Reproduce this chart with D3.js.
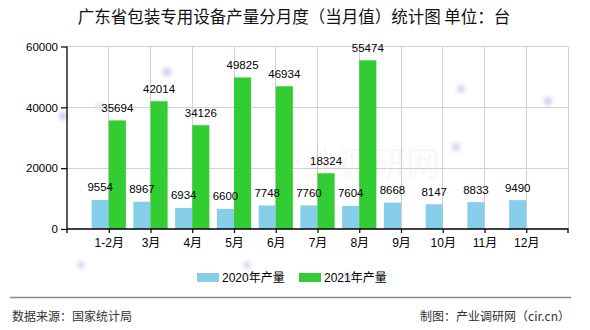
<!DOCTYPE html>
<html>
<head>
<meta charset="utf-8">
<script src="https://cdn.jsdelivr.net/npm/d3@7/dist/d3.min.js"></script>
<style>
  html, body { margin: 0; padding: 0; background: #fff; }
  svg { display: block; }
  text { font-family: "Liberation Sans", "Noto Sans CJK SC", sans-serif; }
</style>
</head>
<body>
<svg id="chart" width="590" height="330"></svg>
<script>
// Monthly output of packaging machinery in Guangdong (units: 台)
const categories = ["1-2月", "3月", "4月", "5月", "6月", "7月", "8月", "9月", "10月", "11月", "12月"];
const output2020 = [9554, 8967, 6934, 6600, 7748, 7760, 7604, 8668, 8147, 8833, 9490];
const output2021 = [35694, 42014, 34126, 49825, 46934, 18324, 55474, null, null, null, null];
const yTicks = [0, 20000, 40000, 60000];
const seriesNames = ["2020年产量", "2021年产量"];
const seriesColors = ["#87CEEB", "#32CD32"];

const titleText = "广东省包装专用设备产量分月度（当月值）统计图 单位：台";
const sourceText = "数据来源：国家统计局";
const creditText = "制图：产业调研网（cir.cn）";

const svg = d3.select("#chart");
const plot = { left: 67, right: 568, top: 46.5, bottom: 229 };

const x = d3.scalePoint().domain(categories).range([plot.left, plot.right]).padding(1);
const y = d3.scaleLinear().domain([0, 60000]).range([plot.bottom, plot.top]);
const barW = x.step() * 0.41;

// soft decorative dots in the background
const defs = svg.append("defs");
const blur = defs.append("filter").attr("id", "soft").attr("x", "-100%").attr("y", "-100%").attr("width", "300%").attr("height", "300%");
blur.append("feGaussianBlur").attr("stdDeviation", 2.2);
const dots = [[63,116,"#c8cbe8"],[100,107,"#dfe1f2"],[167,72,"#c8cbe8"],[461,89,"#d0d3ec"],[456,147,"#d0d3ec"],[548,101,"#c8cbe8"],[81,265,"#d8daf0"],[247,265,"#d8daf0"],[348,277,"#d8daf0"]];

// title
svg.append("text")
  .attr("x", 294).attr("y", 23)
  .attr("text-anchor", "middle")
  .attr("font-size", 16.5)
  .attr("fill", "#111")
  .style("font-family", "'Noto Sans CJK SC', sans-serif")
  .text(titleText);

// grid
const grid = svg.append("g").attr("stroke", "#d0d0d0").attr("stroke-width", 1).attr("shape-rendering", "crispEdges");
yTicks.filter(t => t > 0).forEach(t => {
  grid.append("line").attr("x1", plot.left).attr("x2", plot.right).attr("y1", y(t)).attr("y2", y(t));
});
categories.forEach(c => {
  grid.append("line").attr("x1", x(c)).attr("x2", x(c)).attr("y1", plot.top).attr("y2", plot.bottom);
});
grid.append("line").attr("x1", plot.right).attr("x2", plot.right).attr("y1", plot.top).attr("y2", plot.bottom);

// watermark
svg.append("text")
  .attr("x", 355).attr("y", 176)
  .attr("text-anchor", "middle")
  .attr("font-size", 34)
  .attr("fill", "#e05050")
  .attr("opacity", 0.05)
  .style("font-family", "'Noto Sans CJK SC', sans-serif")
  .text("产业调研网");

svg.append("g").attr("filter", "url(#soft)")
  .selectAll("circle").data(dots).join("circle")
  .attr("cx", d => d[0]).attr("cy", d => d[1]).attr("r", 4)
  .attr("fill", d => d[2]);

// bars first, then all value labels on top
const series = [output2020, output2021];
const bars = svg.append("g");
const labels = svg.append("g");
series.forEach((vals, si) => {
  const items = categories.map((c, i) => ({ c, v: vals[i] })).filter(d => d.v != null);
  const cx = d => (si === 0 ? x(d.c) - barW / 2 : x(d.c) + barW / 2);
  bars.selectAll(null).data(items).join("rect")
    .attr("x", d => cx(d) - barW / 2)
    .attr("y", d => y(d.v))
    .attr("width", barW)
    .attr("height", d => y(0) - y(d.v))
    .attr("fill", seriesColors[si]);
  labels.selectAll(null).data(items).join("text")
    .attr("x", cx)
    .attr("y", d => y(d.v) - 8.5)
    .attr("text-anchor", "middle")
    .attr("font-size", 11.5)
    .attr("fill", "#000")
    .text(d => d.v);
});

// axes
const yAxis = svg.append("g")
  .attr("transform", `translate(${plot.left},0)`)
  .call(d3.axisLeft(y).tickValues(yTicks).tickSize(6).tickPadding(3).tickFormat(d3.format("d")));
const xAxis = svg.append("g")
  .attr("transform", `translate(0,${plot.bottom})`)
  .call(d3.axisBottom(x).tickSize(4).tickPadding(5));
[yAxis, xAxis].forEach(a => {
  a.select(".domain").attr("stroke", "#000").attr("stroke-width", 1.3);
  a.selectAll(".tick line").attr("stroke", "#000").attr("stroke-width", 1.2);
  a.selectAll("text").attr("fill", "#000").style("font-family", "'Liberation Sans', 'Noto Sans CJK SC', sans-serif");
});
yAxis.select(".domain").attr("d", `M0,${plot.top}V${plot.bottom}`);
yAxis.selectAll("text").attr("font-size", 11.5);
xAxis.select(".domain").attr("d", `M${plot.left},0V4M${plot.left},0H${plot.right}V4`);
xAxis.selectAll("text").attr("font-size", 12);

// legend
const legend = svg.append("g");
const legendX = [197, 299];
seriesNames.forEach((name, i) => {
  legend.append("rect").attr("x", legendX[i]).attr("y", 273).attr("width", 22).attr("height", 9).attr("fill", seriesColors[i]);
  legend.append("text").attr("x", legendX[i] + 25).attr("y", 282)
    .attr("font-size", 12).attr("fill", "#000")
    .text(name);
});

// footer
svg.append("line").attr("x1", 10).attr("x2", 571).attr("y1", 297.5).attr("y2", 297.5)
  .attr("stroke", "#888").attr("stroke-width", 1.5);
svg.append("text").attr("x", 12).attr("y", 321)
  .attr("font-size", 12).attr("fill", "#333")
  .style("font-family", "'Noto Sans CJK SC', sans-serif")
  .text(sourceText);
svg.append("text").attr("x", 570).attr("y", 321)
  .attr("text-anchor", "end")
  .attr("font-size", 12).attr("fill", "#333")
  .style("font-family", "'Noto Sans CJK SC', sans-serif")
  .text(creditText);
</script>
</body>
</html>
